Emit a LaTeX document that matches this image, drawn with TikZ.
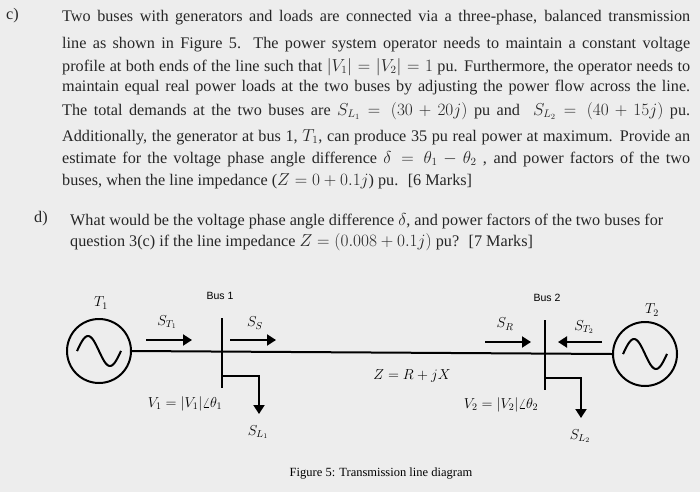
\documentclass[tikz,border=0pt]{standalone}
\usepackage{fontspec}
\setmainfont{Liberation Serif}
\setsansfont{Liberation Sans}
\usetikzlibrary{arrows.meta}
\begin{document}
\begin{tikzpicture}[x=1pt,y=-1pt,
  txt/.style={anchor=west,inner sep=0pt,font=\fontsize{16.2}{18}\selectfont,text=black!85},
  lbl/.style={inner sep=0pt,font=\fontsize{14}{16}\selectfont},
  wire/.style={line width=2pt},
  flow/.style={line width=2pt,-{Triangle[length=9pt,width=11pt]}}]
\fill[black!7] (0,0) rectangle (700,492);
\useasboundingbox (0,0) rectangle (700,492);
\newcommand\fl[1]{\hbox to 628pt{#1}}
\node[txt] (c) at (6,16) {c)};
\node[txt] (l1) at (62,18) {\fl{Two buses with generators and loads are connected via a three-phase, balanced transmission}};
\node[txt] (l2) at (62,45) {\fl{line as shown in Figure 5. The power system operator needs to maintain a constant voltage}};
\node[txt] (l3) at (62,67) {\fl{profile at both ends of the line such that $|V_1|=|V_2|=1$ pu. Furthermore, the operator needs to}};
\node[txt] (l4) at (62,88) {\fl{maintain equal real power loads at the two buses by adjusting the power flow across the line.}};
\node[txt] (l5) at (62,111) {\fl{The total demands at the two buses are $S_{L_1}\!=(30+20j)$ pu and \ $S_{L_2}\!=(40+15j)$ pu.}};
\node[txt] (l6) at (62,137) {\fl{Additionally, the generator at bus 1, $T_1$, can produce 35 pu real power at maximum. Provide an}};
\node[txt] (l7) at (62,159) {\fl{estimate for the voltage phase angle difference $\delta=\theta_1-\theta_2$ , and power factors of the two}};
\node[txt] (l8) at (62,181) {buses, when the line impedance ($Z=0+0.1j$) pu. \ [6 Marks]};
\node[txt] (d) at (34,219) {d)};
\node[txt] (m1) at (70,221) {What would be the voltage phase angle difference $\delta$, and power factors of the two buses for};
\node[txt] (m2) at (70,242) {question 3(c) if the line impedance $Z=(0.008+0.1j)$ pu? \ [7 Marks]};
% diagram
\node[draw,circle,line width=2pt,minimum size=64pt,inner sep=0pt] (g1) at (99,351) {};
\node[draw,circle,line width=2pt,minimum size=64pt,inner sep=0pt] (g2) at (645,354) {};
\draw[line width=2pt,shift={(g1.center)}] plot[domain=-22:22,samples=40,smooth] (\x,{15*sin(\x*8.2)});
\draw[line width=2pt,shift={(g2.center)}] plot[domain=-22:22,samples=40,smooth] (\x,{15*sin(\x*8.2)});
\coordinate (b1t) at (222,318); \coordinate (b1b) at (222,388);
\coordinate (b2t) at (545,320); \coordinate (b2b) at (545,390);
\draw[wire] (b1t) -- (b1b);
\draw[wire] (b2t) -- (b2b);
\draw[wire] (g1.east) -- (g2.west);
\coordinate (t1) at (222,376); \coordinate (c1) at (259,376); \coordinate (e1) at (259,414);
\coordinate (t2) at (545,378); \coordinate (c2) at (581,378); \coordinate (e2) at (581,418);
\draw[flow] (t1) -- (c1) -- (e1);
\draw[flow] (t2) -- (c2) -- (e2);
\coordinate (a1) at (146,340); \coordinate (a2) at (192,340);
\coordinate (a3) at (230,340); \coordinate (a4) at (276,340);
\coordinate (a5) at (485,342); \coordinate (a6) at (531,342);
\coordinate (a7) at (602,342); \coordinate (a8) at (558,342);
\draw[flow] (a1) -- (a2); \draw[flow] (a3) -- (a4);
\draw[flow] (a5) -- (a6); \draw[flow] (a7) -- (a8);
\node[lbl] (nT1) at (101,303) {$T_1$};
\node[lbl] (nT2) at (652,310) {$T_2$};
\node[lbl,font=\sffamily\fontsize{10.5}{12}\selectfont] (nb1) at (220,296) {Bus 1};
\node[lbl,font=\sffamily\fontsize{10.5}{12}\selectfont] (nb2) at (547,298) {Bus 2};
\node[lbl] (nst1) at (167,322) {$S_{T_1}$};
\node[lbl] (nss) at (255,323) {$S_S$};
\node[lbl] (nsr) at (505,324) {$S_R$};
\node[lbl] (nst2) at (584,327) {$S_{T_2}$};
\node[lbl] (nv1) at (185,404) {$V_1=|V_1|\angle\theta_1$};
\node[lbl] (nv2) at (501,405) {$V_2=|V_2|\angle\theta_2$};
\node[lbl] (nsl1) at (258,432) {$S_{L_1}$};
\node[lbl] (nsl2) at (580,436) {$S_{L_2}$};
\node[lbl] (nz) at (412,376) {$Z=R+jX$};
\node[lbl,font=\fontsize{12.5}{14}\selectfont] (cap) at (381,474) {Figure 5: Transmission line diagram};
\end{tikzpicture}
\end{document}
